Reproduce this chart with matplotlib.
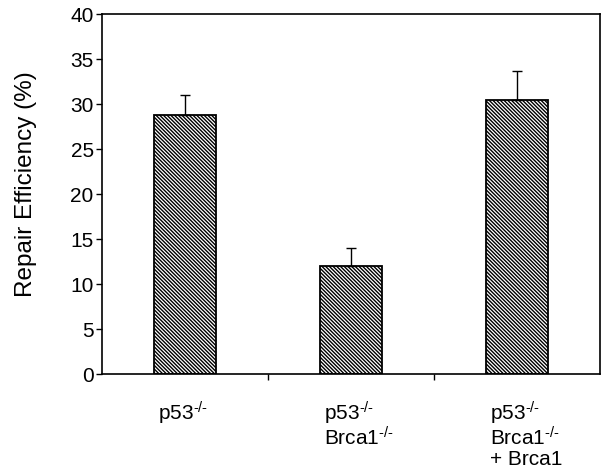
import matplotlib
matplotlib.use('Agg')
import matplotlib.pyplot as plt

plt.rcParams['font.family'] = 'Liberation Sans'
plt.rcParams['mathtext.fontset'] = 'custom'
plt.rcParams['mathtext.rm'] = 'Liberation Sans'
plt.rcParams['hatch.linewidth'] = 1.0

# data
sup = '$\\mathregular{^{\\text{-/-}}}$'
labels = ['p53' + sup,
          'p53' + sup + '\nBrca1' + sup,
          'p53' + sup + '\nBrca1' + sup + '\n+ Brca1']
values = [28.8, 12.0, 30.4]
errors = [2.2, 2.0, 3.3]

fig = plt.figure(figsize=(6.04, 4.77), dpi=100)
ax = fig.add_axes([0.169, 0.214, 0.824, 0.755])

x = range(len(values))
ax.bar(x, values, width=0.375, color='white', edgecolor='black',
       linewidth=1.3, hatch='\\' * 9, zorder=2)
ax.errorbar(x, values, yerr=[[0] * len(errors), errors], fmt='none',
            ecolor='black', elinewidth=1.0, capsize=3.5, capthick=1.0, zorder=3)

ax.set_xlim(-0.5, 2.5)
ax.set_ylim(0, 40)
ax.set_yticks(range(0, 41, 5))
ax.set_xticks([0.5, 1.5])
ax.set_xticklabels([])
ax.tick_params(axis='both', direction='out', length=4, width=1.0, labelsize=15)
ax.tick_params(axis='y', pad=2)
for s in ax.spines.values():
    s.set_linewidth(1.2)

for i, lab in enumerate(labels):
    ax.text(i - 0.16, -0.068, lab, transform=ax.get_xaxis_transform(),
            ha='left', va='top', fontsize=15, linespacing=1.0)

ax.set_ylabel('Repair Efficiency (%)', fontsize=17.5)
ax.yaxis.set_label_coords(-0.13, 0.53)

fig.savefig('out.png', dpi=100)
